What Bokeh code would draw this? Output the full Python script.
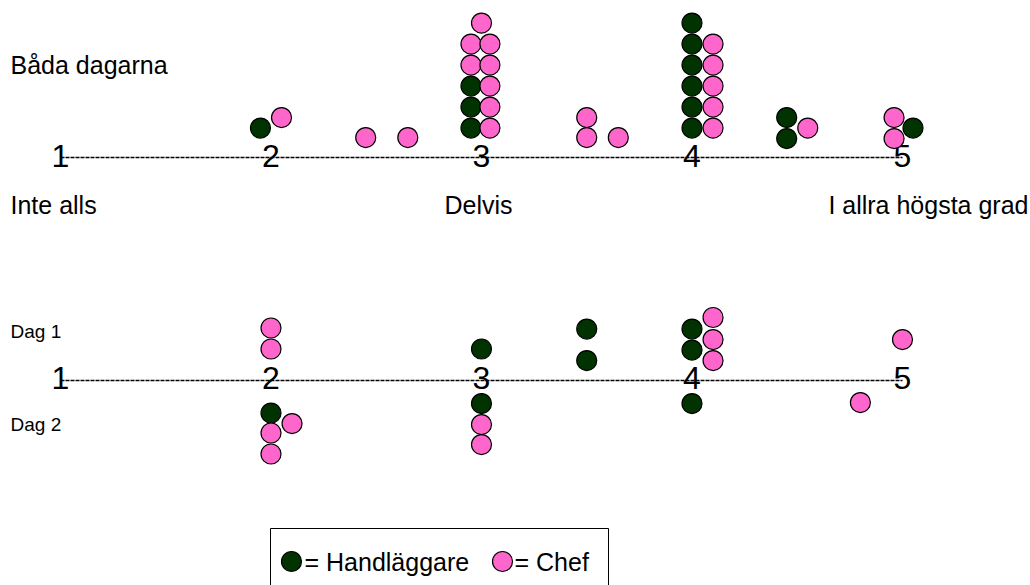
from bokeh.plotting import figure
from bokeh.layouts import column
from bokeh.models import Range1d
from bokeh.core.properties import value
from bokeh.embed import file_html
from bokeh.resources import INLINE

# ---------------- data ----------------
ratings = [1, 2, 3, 4, 5]
tick_labels = ["1", "2", "3", "4", "5"]
scale_labels = ["Inte alls", "Delvis", "I allra högsta grad"]
row_labels_top = ["Båda dagarna"]
row_labels_bottom = ["Dag 1", "Dag 2"]
legend_labels = ["= Handläggare", "= Chef"]

# Båda dagarna (x = rating position, lvl = stack level in dot units above the line)
top_hand_x = [1.95, 2.95, 2.95, 2.95, 4.0, 4.0, 4.0, 4.0, 4.0, 4.0, 4.45, 4.45, 5.05]
top_hand_lvl = [1.4, 1.4, 2.4, 3.4, 1.4, 2.4, 3.4, 4.4, 5.4, 6.4, 1.9, 0.9, 1.4]
top_chef_x = [2.05, 2.45, 2.65, 2.95, 2.95, 3.04, 3.04, 3.04, 3.04, 3.04, 3.0,
              3.5, 3.5, 3.65, 4.10, 4.10, 4.10, 4.10, 4.10, 4.55, 4.96, 4.96]
top_chef_lvl = [1.9, 0.95, 0.95, 4.4, 5.4, 1.4, 2.4, 3.4, 4.4, 5.4, 6.4,
                1.9, 0.95, 0.95, 1.4, 2.4, 3.4, 4.4, 5.4, 1.4, 1.9, 0.9]

# Dag 1 (positive levels) / Dag 2 (negative levels)
bot_hand_x = [2.0, 3.0, 3.0, 3.5, 3.5, 4.0, 4.0, 4.0]
bot_hand_lvl = [-1.55, 1.5, -1.1, 2.45, 0.95, 2.45, 1.45, -1.1]
bot_chef_x = [2.0, 2.0, 2.0, 2.0, 2.1, 3.0, 3.0, 4.1, 4.1, 4.1, 5.0, 4.8]
bot_chef_lvl = [2.5, 1.5, -2.5, -3.5, -2.05, -2.1, -3.05, 3.0, 1.95, 0.95, 1.95, -1.05]

# ---------------- styling / layout ----------------
GREEN = "#003300"
PINK = "#FF66CC"
FONT = value("Liberation Sans")
UNIT = 21.0          # px per stack level
DOT = 20             # dot diameter in px
W = 1030
PX_PER_R = 210.5
R1_PX = 60           # page x of rating 1


def rx(px):
    """page x pixel -> rating coordinate"""
    return 1 + (px - R1_PX) / PX_PER_R


x_range = Range1d(rx(0), rx(W))

# top panel: page y 0..265, baseline at page y 157
TOP_Y0, TOP_H, TOP_BASE_PAGE = 0, 265, 157
# bottom panel: page y 265..585, baseline at page y 380
BOT_Y0, BOT_H, BOT_BASE_PAGE = 265, 320, 380


def make_fig(y0, h, base_page):
    base_local = base_page - y0
    p = figure(width=W, height=h, x_range=x_range,
               y_range=Range1d(-(h - base_local) / UNIT, base_local / UNIT),
               output_backend="svg", toolbar_location=None,
               x_axis_location=None, y_axis_location=None,
               min_border=0, min_border_left=0, min_border_right=0,
               min_border_top=0, min_border_bottom=0)
    p.grid.visible = False
    p.outline_line_color = None
    p.background_fill_color = "white"
    p.border_fill_color = "white"
    return p


def ly(page_y, base_page):
    return (base_page - page_y) / UNIT


def label(p, xs_px, ys_page, base_page, texts, size, align):
    p.text(x=[rx(v) for v in xs_px], y=[ly(v, base_page) for v in ys_page], text=texts,
           text_font=FONT, text_font_size=value(size), text_color="black",
           text_align=align, text_baseline="middle")


def draw_axis(p, base_page, center_off):
    p.line(x=[ratings[0], ratings[-1]], y=[0, 0], line_color="black",
           line_width=1.6, line_dash="4 1")
    p.text(x=ratings, y=[ly(base_page + center_off, base_page)] * len(ratings), text=tick_labels,
           text_font=FONT, text_font_size=value("32px"), text_color="black",
           text_align="center", text_baseline="middle")


# ---------------- top panel ----------------
p1 = make_fig(TOP_Y0, TOP_H, TOP_BASE_PAGE)
draw_axis(p1, TOP_BASE_PAGE, -2)
p1.scatter(x=top_hand_x, y=top_hand_lvl, size=DOT, marker="circle",
           fill_color=GREEN, line_color="black", line_width=1.2)
p1.scatter(x=top_chef_x, y=top_chef_lvl, size=DOT, marker="circle",
           fill_color=PINK, line_color="black", line_width=1.2)
label(p1, [10], [64], TOP_BASE_PAGE, row_labels_top, "25px", "left")
label(p1, [10], [204], TOP_BASE_PAGE, [scale_labels[0]], "25px", "left")
label(p1, [478], [204], TOP_BASE_PAGE, [scale_labels[1]], "25px", "center")
label(p1, [1028], [204], TOP_BASE_PAGE, [scale_labels[2]], "25px", "right")

# ---------------- bottom panel ----------------
p2 = make_fig(BOT_Y0, BOT_H, BOT_BASE_PAGE)
draw_axis(p2, BOT_BASE_PAGE, -3)
p2.scatter(x=bot_hand_x, y=bot_hand_lvl, size=DOT, marker="circle",
           fill_color=GREEN, line_color="black", line_width=1.2)
p2.scatter(x=bot_chef_x, y=bot_chef_lvl, size=DOT, marker="circle",
           fill_color=PINK, line_color="black", line_width=1.2)
label(p2, [10, 10], [331, 424], BOT_BASE_PAGE, row_labels_bottom, "19px", "left")

# legend box (its lower edge lies below the visible page, as in the reference)
p2.quad(left=[rx(270)], right=[rx(608)], top=[ly(528, BOT_BASE_PAGE)],
        bottom=[ly(600, BOT_BASE_PAGE)], fill_color=None, line_color="black", line_width=1)
p2.scatter(x=[rx(291)], y=[ly(561, BOT_BASE_PAGE)], size=DOT, marker="circle",
           fill_color=GREEN, line_color="black", line_width=1.2)
p2.scatter(x=[rx(502)], y=[ly(561, BOT_BASE_PAGE)], size=DOT, marker="circle",
           fill_color=PINK, line_color="black", line_width=1.2)
label(p2, [304, 514], [561, 561], BOT_BASE_PAGE, legend_labels, "25px", "left")

layout = column(p1, p2, spacing=0)
open("out.html", "w").write(file_html(layout, INLINE))
